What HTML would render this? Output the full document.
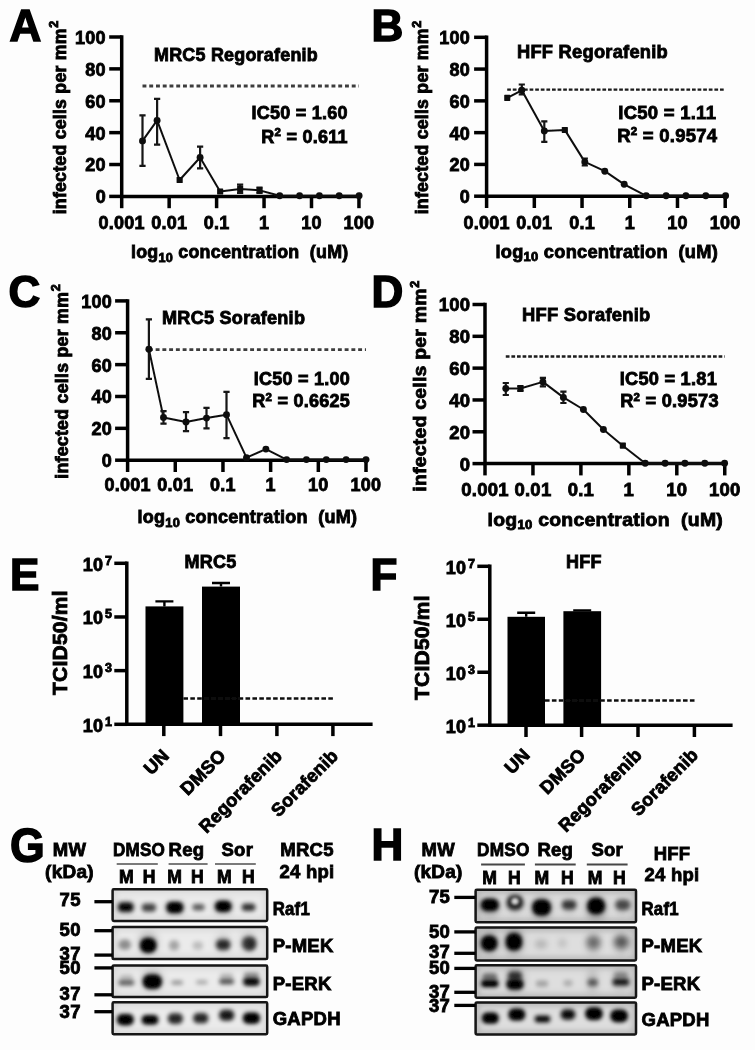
<!DOCTYPE html>
<html lang="en"><head><meta charset="utf-8"><title>Figure</title>
<style>html,body{margin:0;padding:0;background:#fdfdfd}svg{display:block}</style></head>
<body>
<svg width="755" height="1050" viewBox="0 0 755 1050" font-family='"Liberation Sans", sans-serif' font-weight="bold" letter-spacing="0.25">
<defs><filter id="s10" x="-80%" y="-150%" width="260%" height="400%"><feGaussianBlur stdDeviation="1.18"/></filter><filter id="s13" x="-80%" y="-150%" width="260%" height="400%"><feGaussianBlur stdDeviation="1.53"/></filter><filter id="s16" x="-80%" y="-150%" width="260%" height="400%"><feGaussianBlur stdDeviation="1.89"/></filter><filter id="s20" x="-80%" y="-150%" width="260%" height="400%"><feGaussianBlur stdDeviation="2.36"/></filter><filter id="s26" x="-80%" y="-150%" width="260%" height="400%"><feGaussianBlur stdDeviation="3.07"/></filter><filter id="s32" x="-80%" y="-150%" width="260%" height="400%"><feGaussianBlur stdDeviation="3.78"/></filter><filter id="soft"><feGaussianBlur stdDeviation="0.55"/></filter></defs>
<rect width="755" height="1050" fill="#fdfdfd"/>
<g filter="url(#soft)">
<text x="9.5" y="40.7" font-size="44" text-anchor="start" fill="#000" stroke="#000" stroke-width="1.5" >A</text>
<path d="M121.7 35.25 V196.4 H358.95" fill="none" stroke="#050505" stroke-width="3.5" stroke-linejoin="miter"/>
<path d="M109.2 196.40 H121.7" stroke="#050505" stroke-width="3.5"/>
<text x="105.9" y="203.30" font-size="18" text-anchor="end" fill="#000" stroke="#000" stroke-width="0.85" >0</text>
<path d="M109.2 164.52 H121.7" stroke="#050505" stroke-width="3.5"/>
<text x="105.9" y="171.42" font-size="18" text-anchor="end" fill="#000" stroke="#000" stroke-width="0.85" >20</text>
<path d="M109.2 132.64 H121.7" stroke="#050505" stroke-width="3.5"/>
<text x="105.9" y="139.54" font-size="18" text-anchor="end" fill="#000" stroke="#000" stroke-width="0.85" >40</text>
<path d="M109.2 100.76 H121.7" stroke="#050505" stroke-width="3.5"/>
<text x="105.9" y="107.66" font-size="18" text-anchor="end" fill="#000" stroke="#000" stroke-width="0.85" >60</text>
<path d="M109.2 68.88 H121.7" stroke="#050505" stroke-width="3.5"/>
<text x="105.9" y="75.78" font-size="18" text-anchor="end" fill="#000" stroke="#000" stroke-width="0.85" >80</text>
<path d="M109.2 37.00 H121.7" stroke="#050505" stroke-width="3.5"/>
<text x="105.9" y="43.90" font-size="18" text-anchor="end" fill="#000" stroke="#000" stroke-width="0.85" >100</text>
<path d="M121.70 196.4 V208.20000000000002" stroke="#050505" stroke-width="3.5"/>
<text x="121.70" y="229.20" font-size="18" text-anchor="middle" fill="#000" stroke="#000" stroke-width="0.85" >0.001</text>
<path d="M169.15 196.4 V208.20000000000002" stroke="#050505" stroke-width="3.5"/>
<text x="169.15" y="229.20" font-size="18" text-anchor="middle" fill="#000" stroke="#000" stroke-width="0.85" >0.01</text>
<path d="M216.60 196.4 V208.20000000000002" stroke="#050505" stroke-width="3.5"/>
<text x="216.60" y="229.20" font-size="18" text-anchor="middle" fill="#000" stroke="#000" stroke-width="0.85" >0.1</text>
<path d="M264.05 196.4 V208.20000000000002" stroke="#050505" stroke-width="3.5"/>
<text x="264.05" y="229.20" font-size="18" text-anchor="middle" fill="#000" stroke="#000" stroke-width="0.85" >1</text>
<path d="M311.50 196.4 V208.20000000000002" stroke="#050505" stroke-width="3.5"/>
<text x="311.50" y="229.20" font-size="18" text-anchor="middle" fill="#000" stroke="#000" stroke-width="0.85" >10</text>
<path d="M358.95 196.4 V208.20000000000002" stroke="#050505" stroke-width="3.5"/>
<text x="358.95" y="229.20" font-size="18" text-anchor="middle" fill="#000" stroke="#000" stroke-width="0.85" >100</text>
<g transform="translate(65.6 121.3) rotate(-90)" stroke="#000" stroke-width="0.85"><text x="0" y="0" font-size="17.6" text-anchor="middle" textLength="186" lengthAdjust="spacingAndGlyphs">infected cells per mm</text><text x="93.5" y="-7.6" font-size="12.5">2</text></g>
<text x="131" y="258" font-size="17.6" xml:space="preserve" stroke="#000" stroke-width="0.85" textLength="217.5" lengthAdjust="spacingAndGlyphs">log<tspan font-size="12.5" dy="3.5">10</tspan><tspan dy="-3.5"> concentration  (uM)</tspan></text>
<text x="154" y="60.8" font-size="18" text-anchor="start" fill="#000" stroke="#000" stroke-width="0.85" textLength="164" lengthAdjust="spacingAndGlyphs" >MRC5 Regorafenib</text>
<text x="347.8" y="119.4" font-size="18" text-anchor="end" fill="#000" stroke="#000" stroke-width="0.85" >IC50 = 1.60</text>
<text x="347.8" y="142.6" font-size="18" text-anchor="end" stroke="#000" stroke-width="0.85">R<tspan font-size="11.5" dy="-6.5">2</tspan><tspan dy="6.5"> = 0.611</tspan></text>
<path d="M142.5 86.0 H358.95" stroke="#3c3c3c" stroke-width="2.8" stroke-dasharray="3.9 2.85"/>
<path d="M142.5 140.9 L157.1 120.4 L179.6 180.0 L200.1 157.5 L220.1 191.6 L240.1 188.9 L259.5 190.3 L279.7 195.8 L299.6 195.8 L319.4 195.8 L339.2 195.8 L359.1 195.8" fill="none" stroke="#111" stroke-width="2" stroke-linejoin="round"/>
<path d="M142.5 115.4 V165.8 M139.4 115.4 h6.2 M139.4 165.8 h6.2" stroke="#161616" stroke-width="2.2" fill="none"/>
<circle cx="142.5" cy="140.9" r="3.45" fill="#0a0a0a"/>
<path d="M157.1 98.9 V144.6 M154.0 98.9 h6.2 M154.0 144.6 h6.2" stroke="#161616" stroke-width="2.2" fill="none"/>
<circle cx="157.1" cy="120.4" r="3.45" fill="#0a0a0a"/>
<rect x="176.6" y="176.9" width="6.1" height="6.1" rx="0.6" fill="#0a0a0a"/>
<path d="M200.1 146.6 V168.4 M197.0 146.6 h6.2 M197.0 168.4 h6.2" stroke="#161616" stroke-width="2.2" fill="none"/>
<circle cx="200.1" cy="157.5" r="3.45" fill="#0a0a0a"/>
<rect x="217.1" y="188.5" width="6.1" height="6.1" rx="0.6" fill="#0a0a0a"/>
<path d="M240.1 184.6 V192.9 M237.0 184.6 h6.2 M237.0 192.9 h6.2" stroke="#161616" stroke-width="2.2" fill="none"/>
<rect x="237.1" y="185.8" width="6.1" height="6.1" rx="0.6" fill="#0a0a0a"/>
<path d="M259.5 187.5 V193 M256.4 187.5 h6.2 M256.4 193 h6.2" stroke="#161616" stroke-width="2.2" fill="none"/>
<rect x="256.5" y="187.2" width="6.1" height="6.1" rx="0.6" fill="#0a0a0a"/>
<circle cx="279.7" cy="195.8" r="3.45" fill="#0a0a0a"/>
<circle cx="299.6" cy="195.8" r="3.45" fill="#0a0a0a"/>
<circle cx="319.4" cy="195.8" r="3.45" fill="#0a0a0a"/>
<circle cx="339.2" cy="195.8" r="3.45" fill="#0a0a0a"/>
<circle cx="359.1" cy="195.8" r="3.45" fill="#0a0a0a"/>
<text x="371.5" y="40.7" font-size="44" text-anchor="start" fill="#000" stroke="#000" stroke-width="1.5" >B</text>
<path d="M486.6 35.55 V196.2 H725.2" fill="none" stroke="#050505" stroke-width="3.5" stroke-linejoin="miter"/>
<path d="M474.1 196.20 H486.6" stroke="#050505" stroke-width="3.5"/>
<text x="470.1" y="203.10" font-size="18" text-anchor="end" fill="#000" stroke="#000" stroke-width="0.85" >0</text>
<path d="M474.1 164.42 H486.6" stroke="#050505" stroke-width="3.5"/>
<text x="470.1" y="171.32" font-size="18" text-anchor="end" fill="#000" stroke="#000" stroke-width="0.85" >20</text>
<path d="M474.1 132.64 H486.6" stroke="#050505" stroke-width="3.5"/>
<text x="470.1" y="139.54" font-size="18" text-anchor="end" fill="#000" stroke="#000" stroke-width="0.85" >40</text>
<path d="M474.1 100.86 H486.6" stroke="#050505" stroke-width="3.5"/>
<text x="470.1" y="107.76" font-size="18" text-anchor="end" fill="#000" stroke="#000" stroke-width="0.85" >60</text>
<path d="M474.1 69.08 H486.6" stroke="#050505" stroke-width="3.5"/>
<text x="470.1" y="75.98" font-size="18" text-anchor="end" fill="#000" stroke="#000" stroke-width="0.85" >80</text>
<path d="M474.1 37.30 H486.6" stroke="#050505" stroke-width="3.5"/>
<text x="470.1" y="44.20" font-size="18" text-anchor="end" fill="#000" stroke="#000" stroke-width="0.85" >100</text>
<path d="M486.60 196.2 V208.0" stroke="#050505" stroke-width="3.5"/>
<text x="486.60" y="229.00" font-size="18" text-anchor="middle" fill="#000" stroke="#000" stroke-width="0.85" >0.001</text>
<path d="M534.32 196.2 V208.0" stroke="#050505" stroke-width="3.5"/>
<text x="534.32" y="229.00" font-size="18" text-anchor="middle" fill="#000" stroke="#000" stroke-width="0.85" >0.01</text>
<path d="M582.04 196.2 V208.0" stroke="#050505" stroke-width="3.5"/>
<text x="582.04" y="229.00" font-size="18" text-anchor="middle" fill="#000" stroke="#000" stroke-width="0.85" >0.1</text>
<path d="M629.76 196.2 V208.0" stroke="#050505" stroke-width="3.5"/>
<text x="629.76" y="229.00" font-size="18" text-anchor="middle" fill="#000" stroke="#000" stroke-width="0.85" >1</text>
<path d="M677.48 196.2 V208.0" stroke="#050505" stroke-width="3.5"/>
<text x="677.48" y="229.00" font-size="18" text-anchor="middle" fill="#000" stroke="#000" stroke-width="0.85" >10</text>
<path d="M725.20 196.2 V208.0" stroke="#050505" stroke-width="3.5"/>
<text x="725.20" y="229.00" font-size="18" text-anchor="middle" fill="#000" stroke="#000" stroke-width="0.85" >100</text>
<g transform="translate(428.3 121.3) rotate(-90)" stroke="#000" stroke-width="0.85"><text x="0" y="0" font-size="17.6" text-anchor="middle" textLength="186" lengthAdjust="spacingAndGlyphs">infected cells per mm</text><text x="93.5" y="-7.6" font-size="12.5">2</text></g>
<text x="495.5" y="257.8" font-size="17.6" xml:space="preserve" stroke="#000" stroke-width="0.85" textLength="222.5" lengthAdjust="spacingAndGlyphs">log<tspan font-size="12.5" dy="3.5">10</tspan><tspan dy="-3.5"> concentration  (uM)</tspan></text>
<text x="517" y="57.5" font-size="18.5" text-anchor="start" fill="#000" stroke="#000" stroke-width="0.85" textLength="151" lengthAdjust="spacingAndGlyphs" >HFF Regorafenib</text>
<text x="716.2" y="118.8" font-size="18.5" text-anchor="end" fill="#000" stroke="#000" stroke-width="0.85" >IC50 = 1.11</text>
<text x="717.4" y="141.9" font-size="18.5" text-anchor="end" stroke="#000" stroke-width="0.85">R<tspan font-size="11.5" dy="-6.5">2</tspan><tspan dy="6.5"> = 0.9574</tspan></text>
<path d="M507.2 89.6 H725.2" stroke="#1c1c1c" stroke-width="2.4" stroke-dasharray="3.7 1.9"/>
<path d="M507.2 97.8 L521.8 90.3 L544.3 130.9 L564.8 129.9 L584.8 161.9 L604.8 171.2 L624.2 184.3 L646.2 195.8 L666.1 195.8 L685.9 195.8 L705.8 195.8 L725.6 195.8" fill="none" stroke="#111" stroke-width="2" stroke-linejoin="round"/>
<rect x="504.2" y="94.8" width="6.1" height="6.1" rx="0.6" fill="#0a0a0a"/>
<path d="M521.8 84.5 V94.4 M518.7 84.5 h6.2 M518.7 94.4 h6.2" stroke="#161616" stroke-width="2.2" fill="none"/>
<circle cx="521.8" cy="90.3" r="3.45" fill="#0a0a0a"/>
<path d="M544.3 121.3 V141.9 M541.2 121.3 h6.2 M541.2 141.9 h6.2" stroke="#161616" stroke-width="2.2" fill="none"/>
<circle cx="544.3" cy="130.9" r="3.45" fill="#0a0a0a"/>
<rect x="561.8" y="126.9" width="6.1" height="6.1" rx="0.6" fill="#0a0a0a"/>
<path d="M584.8 158.5 V165.5 M581.7 158.5 h6.2 M581.7 165.5 h6.2" stroke="#161616" stroke-width="2.2" fill="none"/>
<circle cx="584.8" cy="161.9" r="3.45" fill="#0a0a0a"/>
<circle cx="604.8" cy="171.2" r="3.45" fill="#0a0a0a"/>
<circle cx="624.2" cy="184.3" r="3.45" fill="#0a0a0a"/>
<circle cx="646.2" cy="195.8" r="3.45" fill="#0a0a0a"/>
<circle cx="666.1" cy="195.8" r="3.45" fill="#0a0a0a"/>
<circle cx="685.9" cy="195.8" r="3.45" fill="#0a0a0a"/>
<circle cx="705.8" cy="195.8" r="3.45" fill="#0a0a0a"/>
<circle cx="725.6" cy="195.8" r="3.45" fill="#0a0a0a"/>
<text x="8.5" y="306.8" font-size="44" text-anchor="start" fill="#000" stroke="#000" stroke-width="1.5" >C</text>
<path d="M127.6 299.15 V460.2 H366.0" fill="none" stroke="#050505" stroke-width="3.5" stroke-linejoin="miter"/>
<path d="M115.1 460.20 H127.6" stroke="#050505" stroke-width="3.5"/>
<text x="112.0" y="467.10" font-size="18" text-anchor="end" fill="#000" stroke="#000" stroke-width="0.85" >0</text>
<path d="M115.1 428.34 H127.6" stroke="#050505" stroke-width="3.5"/>
<text x="112.0" y="435.24" font-size="18" text-anchor="end" fill="#000" stroke="#000" stroke-width="0.85" >20</text>
<path d="M115.1 396.48 H127.6" stroke="#050505" stroke-width="3.5"/>
<text x="112.0" y="403.38" font-size="18" text-anchor="end" fill="#000" stroke="#000" stroke-width="0.85" >40</text>
<path d="M115.1 364.62 H127.6" stroke="#050505" stroke-width="3.5"/>
<text x="112.0" y="371.52" font-size="18" text-anchor="end" fill="#000" stroke="#000" stroke-width="0.85" >60</text>
<path d="M115.1 332.76 H127.6" stroke="#050505" stroke-width="3.5"/>
<text x="112.0" y="339.66" font-size="18" text-anchor="end" fill="#000" stroke="#000" stroke-width="0.85" >80</text>
<path d="M115.1 300.90 H127.6" stroke="#050505" stroke-width="3.5"/>
<text x="112.0" y="307.80" font-size="18" text-anchor="end" fill="#000" stroke="#000" stroke-width="0.85" >100</text>
<path d="M127.60 460.2 V472.0" stroke="#050505" stroke-width="3.5"/>
<text x="127.60" y="491.20" font-size="18" text-anchor="middle" fill="#000" stroke="#000" stroke-width="0.85" >0.001</text>
<path d="M175.28 460.2 V472.0" stroke="#050505" stroke-width="3.5"/>
<text x="175.28" y="491.20" font-size="18" text-anchor="middle" fill="#000" stroke="#000" stroke-width="0.85" >0.01</text>
<path d="M222.96 460.2 V472.0" stroke="#050505" stroke-width="3.5"/>
<text x="222.96" y="491.20" font-size="18" text-anchor="middle" fill="#000" stroke="#000" stroke-width="0.85" >0.1</text>
<path d="M270.64 460.2 V472.0" stroke="#050505" stroke-width="3.5"/>
<text x="270.64" y="491.20" font-size="18" text-anchor="middle" fill="#000" stroke="#000" stroke-width="0.85" >1</text>
<path d="M318.32 460.2 V472.0" stroke="#050505" stroke-width="3.5"/>
<text x="318.32" y="491.20" font-size="18" text-anchor="middle" fill="#000" stroke="#000" stroke-width="0.85" >10</text>
<path d="M366.00 460.2 V472.0" stroke="#050505" stroke-width="3.5"/>
<text x="366.00" y="491.20" font-size="18" text-anchor="middle" fill="#000" stroke="#000" stroke-width="0.85" >100</text>
<g transform="translate(67.5 385.3) rotate(-90)" stroke="#000" stroke-width="0.85"><text x="0" y="0" font-size="17.6" text-anchor="middle" textLength="187" lengthAdjust="spacingAndGlyphs">infected cells per mm</text><text x="94.0" y="-7.6" font-size="12.5">2</text></g>
<text x="137.5" y="523.3" font-size="17.6" xml:space="preserve" stroke="#000" stroke-width="0.85" textLength="219.7" lengthAdjust="spacingAndGlyphs">log<tspan font-size="12.5" dy="3.5">10</tspan><tspan dy="-3.5"> concentration  (uM)</tspan></text>
<text x="162" y="323.7" font-size="18" text-anchor="start" fill="#000" stroke="#000" stroke-width="0.85" textLength="143.2" lengthAdjust="spacingAndGlyphs" >MRC5 Sorafenib</text>
<text x="350" y="384.7" font-size="18" text-anchor="end" fill="#000" stroke="#000" stroke-width="0.85" >IC50 = 1.00</text>
<text x="350" y="407.1" font-size="18" text-anchor="end" stroke="#000" stroke-width="0.85">R<tspan font-size="11.5" dy="-6.5">2</tspan><tspan dy="6.5"> = 0.6625</tspan></text>
<path d="M148.9 349.6 H366.0" stroke="#3c3c3c" stroke-width="2.8" stroke-dasharray="3.9 2.85"/>
<path d="M148.9 349.2 L163.5 417.4 L186.0 421.9 L206.5 418.1 L226.5 414.7 L246.5 457.7 L265.9 449.1 L286.6 459.6 L306.4 459.6 L326.3 459.6 L346.1 459.6 L366.0 459.6" fill="none" stroke="#111" stroke-width="2" stroke-linejoin="round"/>
<path d="M148.9 319.3 V378.8 M145.8 319.3 h6.2 M145.8 378.8 h6.2" stroke="#161616" stroke-width="2.2" fill="none"/>
<circle cx="148.9" cy="349.2" r="3.45" fill="#0a0a0a"/>
<path d="M163.5 411.2 V423.6 M160.4 411.2 h6.2 M160.4 423.6 h6.2" stroke="#161616" stroke-width="2.2" fill="none"/>
<circle cx="163.5" cy="417.4" r="3.45" fill="#0a0a0a"/>
<path d="M186.0 412.2 V431.2 M182.9 412.2 h6.2 M182.9 431.2 h6.2" stroke="#161616" stroke-width="2.2" fill="none"/>
<circle cx="186.0" cy="421.9" r="3.45" fill="#0a0a0a"/>
<path d="M206.5 407.8 V428.4 M203.4 407.8 h6.2 M203.4 428.4 h6.2" stroke="#161616" stroke-width="2.2" fill="none"/>
<circle cx="206.5" cy="418.1" r="3.45" fill="#0a0a0a"/>
<path d="M226.5 391.9 V438.1 M223.4 391.9 h6.2 M223.4 438.1 h6.2" stroke="#161616" stroke-width="2.2" fill="none"/>
<circle cx="226.5" cy="414.7" r="3.45" fill="#0a0a0a"/>
<circle cx="246.5" cy="457.7" r="3.45" fill="#0a0a0a"/>
<circle cx="265.9" cy="449.1" r="3.45" fill="#0a0a0a"/>
<circle cx="286.6" cy="459.6" r="3.45" fill="#0a0a0a"/>
<circle cx="306.4" cy="459.6" r="3.45" fill="#0a0a0a"/>
<circle cx="326.3" cy="459.6" r="3.45" fill="#0a0a0a"/>
<circle cx="346.1" cy="459.6" r="3.45" fill="#0a0a0a"/>
<circle cx="366.0" cy="459.6" r="3.45" fill="#0a0a0a"/>
<text x="371.6" y="306.5" font-size="44" text-anchor="start" fill="#000" stroke="#000" stroke-width="1.5" >D</text>
<path d="M485.0 302.75 V463.6 H724.75" fill="none" stroke="#050505" stroke-width="3.5" stroke-linejoin="miter"/>
<path d="M472.5 463.60 H485.0" stroke="#050505" stroke-width="3.5"/>
<text x="470.4" y="470.50" font-size="18.5" text-anchor="end" fill="#000" stroke="#000" stroke-width="0.85" >0</text>
<path d="M472.5 431.78 H485.0" stroke="#050505" stroke-width="3.5"/>
<text x="470.4" y="438.68" font-size="18.5" text-anchor="end" fill="#000" stroke="#000" stroke-width="0.85" >20</text>
<path d="M472.5 399.96 H485.0" stroke="#050505" stroke-width="3.5"/>
<text x="470.4" y="406.86" font-size="18.5" text-anchor="end" fill="#000" stroke="#000" stroke-width="0.85" >40</text>
<path d="M472.5 368.14 H485.0" stroke="#050505" stroke-width="3.5"/>
<text x="470.4" y="375.04" font-size="18.5" text-anchor="end" fill="#000" stroke="#000" stroke-width="0.85" >60</text>
<path d="M472.5 336.32 H485.0" stroke="#050505" stroke-width="3.5"/>
<text x="470.4" y="343.22" font-size="18.5" text-anchor="end" fill="#000" stroke="#000" stroke-width="0.85" >80</text>
<path d="M472.5 304.50 H485.0" stroke="#050505" stroke-width="3.5"/>
<text x="470.4" y="311.40" font-size="18.5" text-anchor="end" fill="#000" stroke="#000" stroke-width="0.85" >100</text>
<path d="M485.00 463.6 V475.40000000000003" stroke="#050505" stroke-width="3.5"/>
<text x="485.00" y="496.40" font-size="18.5" text-anchor="middle" fill="#000" stroke="#000" stroke-width="0.85" >0.001</text>
<path d="M532.95 463.6 V475.40000000000003" stroke="#050505" stroke-width="3.5"/>
<text x="532.95" y="496.40" font-size="18.5" text-anchor="middle" fill="#000" stroke="#000" stroke-width="0.85" >0.01</text>
<path d="M580.90 463.6 V475.40000000000003" stroke="#050505" stroke-width="3.5"/>
<text x="580.90" y="496.40" font-size="18.5" text-anchor="middle" fill="#000" stroke="#000" stroke-width="0.85" >0.1</text>
<path d="M628.85 463.6 V475.40000000000003" stroke="#050505" stroke-width="3.5"/>
<text x="628.85" y="496.40" font-size="18.5" text-anchor="middle" fill="#000" stroke="#000" stroke-width="0.85" >1</text>
<path d="M676.80 463.6 V475.40000000000003" stroke="#050505" stroke-width="3.5"/>
<text x="676.80" y="496.40" font-size="18.5" text-anchor="middle" fill="#000" stroke="#000" stroke-width="0.85" >10</text>
<path d="M724.75 463.6 V475.40000000000003" stroke="#050505" stroke-width="3.5"/>
<text x="724.75" y="496.40" font-size="18.5" text-anchor="middle" fill="#000" stroke="#000" stroke-width="0.85" >100</text>
<g transform="translate(426.2 390) rotate(-90)" stroke="#000" stroke-width="0.85"><text x="0" y="0" font-size="19" text-anchor="middle" textLength="203.5" lengthAdjust="spacingAndGlyphs">infected cells per mm</text><text x="102.25" y="-7.6" font-size="12.5">2</text></g>
<text x="487.6" y="525.6" font-size="18.6" xml:space="preserve" stroke="#000" stroke-width="0.85" textLength="235.5" lengthAdjust="spacingAndGlyphs">log<tspan font-size="12.5" dy="3.5">10</tspan><tspan dy="-3.5"> concentration  (uM)</tspan></text>
<text x="522" y="321.3" font-size="18.8" text-anchor="start" fill="#000" stroke="#000" stroke-width="0.85" textLength="128.5" lengthAdjust="spacingAndGlyphs" >HFF Sorafenib</text>
<text x="717" y="385.2" font-size="18.2" text-anchor="end" fill="#000" stroke="#000" stroke-width="0.85" >IC50 = 1.81</text>
<text x="718.8" y="407.4" font-size="18.2" text-anchor="end" stroke="#000" stroke-width="0.85">R<tspan font-size="11.5" dy="-6.5">2</tspan><tspan dy="6.5"> = 0.9573</tspan></text>
<path d="M505.8 356.5 H724.75" stroke="#1c1c1c" stroke-width="2.4" stroke-dasharray="3.7 1.9"/>
<path d="M505.8 388.5 L520.4 388.5 L542.9 381.9 L563.4 397.4 L583.4 409.5 L603.4 429.5 L622.8 445.7 L645.2 463.2 L665.1 463.2 L684.9 463.2 L704.8 463.2 L724.6 463.2" fill="none" stroke="#111" stroke-width="2" stroke-linejoin="round"/>
<path d="M505.8 383 V395 M502.7 383 h6.2 M502.7 395 h6.2" stroke="#161616" stroke-width="2.2" fill="none"/>
<circle cx="505.8" cy="388.5" r="3.45" fill="#0a0a0a"/>
<path d="M520.4 386 V391 M517.3 386 h6.2 M517.3 391 h6.2" stroke="#161616" stroke-width="2.2" fill="none"/>
<rect x="517.4" y="385.4" width="6.1" height="6.1" rx="0.6" fill="#0a0a0a"/>
<path d="M542.9 377.8 V386.4 M539.8 377.8 h6.2 M539.8 386.4 h6.2" stroke="#161616" stroke-width="2.2" fill="none"/>
<circle cx="542.9" cy="381.9" r="3.45" fill="#0a0a0a"/>
<path d="M563.4 391.6 V403 M560.3 391.6 h6.2 M560.3 403 h6.2" stroke="#161616" stroke-width="2.2" fill="none"/>
<circle cx="563.4" cy="397.4" r="3.45" fill="#0a0a0a"/>
<circle cx="583.4" cy="409.5" r="3.45" fill="#0a0a0a"/>
<circle cx="603.4" cy="429.5" r="3.45" fill="#0a0a0a"/>
<rect x="619.8" y="442.6" width="6.1" height="6.1" rx="0.6" fill="#0a0a0a"/>
<circle cx="645.2" cy="463.2" r="3.45" fill="#0a0a0a"/>
<circle cx="665.1" cy="463.2" r="3.45" fill="#0a0a0a"/>
<circle cx="684.9" cy="463.2" r="3.45" fill="#0a0a0a"/>
<circle cx="704.8" cy="463.2" r="3.45" fill="#0a0a0a"/>
<circle cx="724.6" cy="463.2" r="3.45" fill="#0a0a0a"/>
<text x="10" y="590.3" font-size="44" text-anchor="start" fill="#000" stroke="#000" stroke-width="1.5" >E</text>
<path d="M126.8 561.55 V724.3 H372.6" fill="none" stroke="#050505" stroke-width="3.5"/>
<path d="M114.3 724.30 H126.8" stroke="#050505" stroke-width="3.5"/>
<text x="103.3" y="731.60" font-size="18" text-anchor="end" stroke="#000" stroke-width="0.85">10</text>
<text x="105.0" y="725.70" font-size="12.5" stroke="#000" stroke-width="0.85">1</text>
<path d="M114.3 670.63 H126.8" stroke="#050505" stroke-width="3.5"/>
<text x="103.3" y="677.93" font-size="18" text-anchor="end" stroke="#000" stroke-width="0.85">10</text>
<text x="105.0" y="672.03" font-size="12.5" stroke="#000" stroke-width="0.85">3</text>
<path d="M114.3 616.97 H126.8" stroke="#050505" stroke-width="3.5"/>
<text x="103.3" y="624.27" font-size="18" text-anchor="end" stroke="#000" stroke-width="0.85">10</text>
<text x="105.0" y="618.37" font-size="12.5" stroke="#000" stroke-width="0.85">5</text>
<path d="M114.3 563.30 H126.8" stroke="#050505" stroke-width="3.5"/>
<text x="103.3" y="570.60" font-size="18" text-anchor="end" stroke="#000" stroke-width="0.85">10</text>
<text x="105.0" y="564.70" font-size="12.5" stroke="#000" stroke-width="0.85">7</text>
<path d="M164.4 606.4 V601.4 M155.4 601.4 h18" stroke="#050505" stroke-width="2.4" fill="none"/>
<rect x="145.5" y="606.4" width="37.9" height="118.9" fill="#050505"/>
<path d="M221.0 586.6 V583.0 M212.0 583.0 h18" stroke="#050505" stroke-width="2.4" fill="none"/>
<rect x="202" y="586.6" width="38.0" height="138.7" fill="#050505"/>
<path d="M183.4 698.6 H334.4" stroke="#111" stroke-width="2.5" stroke-dasharray="4.6 2.3"/>
<path d="M163.8 724.3 V736.0999999999999" stroke="#050505" stroke-width="3.5"/>
<text transform="translate(170.3 756.9) rotate(-45)" font-size="18.2" text-anchor="end" stroke="#000" stroke-width="0.85">UN</text>
<path d="M220.5 724.3 V736.0999999999999" stroke="#050505" stroke-width="3.5"/>
<text transform="translate(227.0 756.9) rotate(-45)" font-size="18.2" text-anchor="end" stroke="#000" stroke-width="0.85">DMSO</text>
<path d="M276.9 724.3 V736.0999999999999" stroke="#050505" stroke-width="3.5"/>
<text transform="translate(283.4 756.9) rotate(-45)" font-size="18.2" text-anchor="end" stroke="#000" stroke-width="0.85">Regorafenib</text>
<path d="M332.9 724.3 V736.0999999999999" stroke="#050505" stroke-width="3.5"/>
<text transform="translate(339.4 756.9) rotate(-45)" font-size="18.2" text-anchor="end" stroke="#000" stroke-width="0.85">Sorafenib</text>
<text x="184.4" y="567.5" font-size="18" text-anchor="start" fill="#000" stroke="#000" stroke-width="0.85" >MRC5</text>
<text transform="translate(67 642.6) rotate(-90)" font-size="20" text-anchor="middle" stroke="#000" stroke-width="0.85" textLength="105" lengthAdjust="spacingAndGlyphs">TCID50/ml</text>
<text x="370.6" y="590.3" font-size="44" text-anchor="start" fill="#000" stroke="#000" stroke-width="1.5" >F</text>
<path d="M489.8 564.55 V725.2 H732.6" fill="none" stroke="#050505" stroke-width="3.5"/>
<path d="M477.3 725.20 H489.8" stroke="#050505" stroke-width="3.5"/>
<text x="466.3" y="732.50" font-size="18" text-anchor="end" stroke="#000" stroke-width="0.85">10</text>
<text x="468.0" y="726.60" font-size="12.5" stroke="#000" stroke-width="0.85">1</text>
<path d="M477.3 672.23 H489.8" stroke="#050505" stroke-width="3.5"/>
<text x="466.3" y="679.53" font-size="18" text-anchor="end" stroke="#000" stroke-width="0.85">10</text>
<text x="468.0" y="673.63" font-size="12.5" stroke="#000" stroke-width="0.85">3</text>
<path d="M477.3 619.27 H489.8" stroke="#050505" stroke-width="3.5"/>
<text x="466.3" y="626.57" font-size="18" text-anchor="end" stroke="#000" stroke-width="0.85">10</text>
<text x="468.0" y="620.67" font-size="12.5" stroke="#000" stroke-width="0.85">5</text>
<path d="M477.3 566.30 H489.8" stroke="#050505" stroke-width="3.5"/>
<text x="466.3" y="573.60" font-size="18" text-anchor="end" stroke="#000" stroke-width="0.85">10</text>
<text x="468.0" y="567.70" font-size="12.5" stroke="#000" stroke-width="0.85">7</text>
<path d="M526.2 616.8 V612.8 M517.2 612.8 h18" stroke="#050505" stroke-width="2.4" fill="none"/>
<rect x="507.5" y="616.8" width="37.5" height="109.4" fill="#050505"/>
<path d="M582.2 611.2 V610.4 M573.2 610.4 h18" stroke="#050505" stroke-width="2.4" fill="none"/>
<rect x="563.4" y="611.2" width="37.7" height="115.0" fill="#050505"/>
<path d="M545 700.4 H695.5" stroke="#111" stroke-width="2.5" stroke-dasharray="4.6 2.3"/>
<path d="M526 725.2 V737.0" stroke="#050505" stroke-width="3.5"/>
<text transform="translate(531.0 756.0) rotate(-45)" font-size="18.2" text-anchor="end" stroke="#000" stroke-width="0.85">UN</text>
<path d="M581.6 725.2 V737.0" stroke="#050505" stroke-width="3.5"/>
<text transform="translate(586.6 756.0) rotate(-45)" font-size="18.2" text-anchor="end" stroke="#000" stroke-width="0.85">DMSO</text>
<path d="M638 725.2 V737.0" stroke="#050505" stroke-width="3.5"/>
<text transform="translate(643.0 756.0) rotate(-45)" font-size="18.2" text-anchor="end" stroke="#000" stroke-width="0.85">Regorafenib</text>
<path d="M694.4 725.2 V737.0" stroke="#050505" stroke-width="3.5"/>
<text transform="translate(699.4 756.0) rotate(-45)" font-size="18.2" text-anchor="end" stroke="#000" stroke-width="0.85">Sorafenib</text>
<text x="566" y="568.1" font-size="18" text-anchor="start" fill="#000" stroke="#000" stroke-width="0.85" >HFF</text>
<text transform="translate(428.8 647.6) rotate(-90)" font-size="20" text-anchor="middle" stroke="#000" stroke-width="0.85" textLength="105" lengthAdjust="spacingAndGlyphs">TCID50/ml</text>
<text x="10.0" y="861.6" font-size="48.6" text-anchor="start" fill="#000" stroke="#000" stroke-width="1.5" textLength="35.0" lengthAdjust="spacingAndGlyphs" >G</text>
<text x="69.5" y="855.8" font-size="18.5" text-anchor="middle" fill="#000" stroke="#000" stroke-width="0.85" >MW</text>
<text x="69.5" y="878.3" font-size="19.0" text-anchor="middle" fill="#000" stroke="#000" stroke-width="0.85" >(kDa)</text>
<text x="139.0" y="856.2" font-size="18.5" text-anchor="middle" fill="#000" stroke="#000" stroke-width="0.85" textLength="52.2" lengthAdjust="spacingAndGlyphs" >DMSO</text>
<path d="M116.7 864.1 H157.8" stroke="#7a7a7a" stroke-width="2"/>
<text x="186.4" y="856.2" font-size="18.5" text-anchor="middle" fill="#000" stroke="#000" stroke-width="0.85" >Reg</text>
<path d="M168.6 864.1 H207.6" stroke="#7a7a7a" stroke-width="2"/>
<text x="237.3" y="856.2" font-size="18.5" text-anchor="middle" fill="#000" stroke="#000" stroke-width="0.85" >Sor</text>
<path d="M215 864.1 H255.8" stroke="#7a7a7a" stroke-width="2"/>
<text x="126.5" y="882.6" font-size="17.6" text-anchor="middle" fill="#000" stroke="#000" stroke-width="0.85" >M</text>
<text x="149.3" y="882.6" font-size="17.6" text-anchor="middle" fill="#000" stroke="#000" stroke-width="0.85" >H</text>
<text x="174.7" y="882.6" font-size="17.6" text-anchor="middle" fill="#000" stroke="#000" stroke-width="0.85" >M</text>
<text x="197.6" y="882.6" font-size="17.6" text-anchor="middle" fill="#000" stroke="#000" stroke-width="0.85" >H</text>
<text x="224.5" y="882.6" font-size="17.6" text-anchor="middle" fill="#000" stroke="#000" stroke-width="0.85" >M</text>
<text x="248.4" y="882.6" font-size="17.6" text-anchor="middle" fill="#000" stroke="#000" stroke-width="0.85" >H</text>
<text x="307.0" y="856" font-size="18.5" text-anchor="middle" fill="#000" stroke="#000" stroke-width="0.85" >MRC5</text>
<text x="307.0" y="877.5" font-size="18.5" text-anchor="middle" fill="#000" stroke="#000" stroke-width="0.85" >24 hpi</text>
<clipPath id="cG0"><rect x="112.6" y="889.2" width="154.6" height="31.8"/></clipPath>
<rect x="112.6" y="889.2" width="154.6" height="31.8" fill="#ebebeb"/>
<g clip-path="url(#cG0)">
<rect x="112.6" y="889.2" width="154.6" height="31.8" fill="none" stroke="#000" stroke-opacity="0.09" stroke-width="7" filter="url(#s26)"/>
<rect x="118.2" y="902.6" width="15.1" height="9.2" rx="4.1" fill="#000" fill-opacity="1" filter="url(#s16)"/>
<rect x="116.9" y="901.4" width="17.7" height="11.7" rx="5.2" fill="#000" fill-opacity="0.18" filter="url(#s26)"/>
<rect x="141.8" y="903.5" width="14.2" height="8.2" rx="3.7" fill="#000" fill-opacity="0.72" filter="url(#s20)"/>
<rect x="166.5" y="901.9" width="16.6" height="11.2" rx="5.0" fill="#000" fill-opacity="1" filter="url(#s16)"/>
<rect x="169.0" y="904.7" width="11.6" height="5.6" rx="2.5" fill="#000" fill-opacity="1" filter="url(#s16)"/>
<rect x="165.0" y="901.2" width="19.7" height="13.7" rx="6.1" fill="#000" fill-opacity="0.2" filter="url(#s26)"/>
<rect x="192.4" y="903.9" width="12.2" height="6.7" rx="3.0" fill="#000" fill-opacity="0.62" filter="url(#s20)"/>
<rect x="215.2" y="901.1" width="16.1" height="10.6" rx="4.8" fill="#000" fill-opacity="1" filter="url(#s16)"/>
<rect x="217.4" y="903.6" width="11.6" height="5.6" rx="2.5" fill="#000" fill-opacity="1" filter="url(#s16)"/>
<rect x="213.4" y="900.0" width="19.7" height="13.7" rx="6.1" fill="#000" fill-opacity="0.2" filter="url(#s26)"/>
<rect x="241.7" y="903.4" width="13.7" height="7.7" rx="3.5" fill="#000" fill-opacity="0.8" filter="url(#s20)"/>
</g>
<rect x="112.6" y="889.2" width="154.6" height="31.8" fill="none" stroke="#121212" stroke-width="2.5" rx="1.2"/>
<text x="272.7" y="914.6" font-size="18.5" text-anchor="start" fill="#000" stroke="#000" stroke-width="0.85" textLength="37.3" lengthAdjust="spacingAndGlyphs" >Raf1</text>
<clipPath id="cG1"><rect x="112.6" y="927.0" width="154.6" height="32.1"/></clipPath>
<rect x="112.6" y="927.0" width="154.6" height="32.1" fill="#ebebeb"/>
<g clip-path="url(#cG1)">
<rect x="112.6" y="927.0" width="154.6" height="32.1" fill="none" stroke="#000" stroke-opacity="0.09" stroke-width="7" filter="url(#s26)"/>
<rect x="118.7" y="939.6" width="12.2" height="10.2" rx="4.6" fill="#000" fill-opacity="0.4" filter="url(#s20)"/>
<rect x="140.2" y="938.1" width="16.1" height="14.6" rx="6.6" fill="#000" fill-opacity="1" filter="url(#s16)"/>
<rect x="142.4" y="940.6" width="11.6" height="9.6" rx="4.3" fill="#000" fill-opacity="1" filter="url(#s16)"/>
<rect x="138.6" y="932.4" width="19.1" height="21.1" rx="8.6" fill="#000" fill-opacity="0.22" filter="url(#s32)"/>
<rect x="169.0" y="940.3" width="10.2" height="10.2" rx="4.6" fill="#000" fill-opacity="0.3" filter="url(#s20)"/>
<rect x="192.7" y="941.5" width="10.2" height="8.2" rx="3.7" fill="#000" fill-opacity="0.2" filter="url(#s20)"/>
<rect x="216.1" y="939.4" width="14.2" height="10.7" rx="4.8" fill="#000" fill-opacity="0.8" filter="url(#s20)"/>
<rect x="215.6" y="934.4" width="15.1" height="17.1" rx="6.8" fill="#000" fill-opacity="0.15" filter="url(#s32)"/>
<rect x="242.0" y="936.5" width="14.2" height="14.2" rx="6.4" fill="#000" fill-opacity="0.72" filter="url(#s20)"/>
<rect x="247.4" y="938.9" width="7.2" height="10.2" rx="3.2" fill="#000" fill-opacity="0.3" filter="url(#s20)"/>
<rect x="240.4" y="932.4" width="17.1" height="19.1" rx="7.7" fill="#000" fill-opacity="0.15" filter="url(#s32)"/>
</g>
<rect x="112.6" y="927.0" width="154.6" height="32.1" fill="none" stroke="#121212" stroke-width="2.5" rx="1.2"/>
<text x="272.7" y="951.7" font-size="18.5" text-anchor="start" fill="#000" stroke="#000" stroke-width="0.85" >P-MEK</text>
<clipPath id="cG2"><rect x="112.6" y="965.6" width="154.6" height="31.5"/></clipPath>
<rect x="112.6" y="965.6" width="154.6" height="31.5" fill="#ebebeb"/>
<g clip-path="url(#cG2)">
<rect x="112.6" y="965.6" width="154.6" height="31.5" fill="none" stroke="#000" stroke-opacity="0.09" stroke-width="7" filter="url(#s26)"/>
<rect x="118.6" y="979.8" width="15.6" height="5.6" rx="2.5" fill="#000" fill-opacity="0.6" filter="url(#s16)"/>
<rect x="119.8" y="974.7" width="13.2" height="4.2" rx="1.9" fill="#000" fill-opacity="0.22" filter="url(#s20)"/>
<rect x="143.0" y="974.6" width="18.6" height="14.1" rx="6.3" fill="#000" fill-opacity="1" filter="url(#s16)"/>
<rect x="145.3" y="977.5" width="14.1" height="8.6" rx="3.9" fill="#000" fill-opacity="1" filter="url(#s16)"/>
<rect x="141.7" y="970.4" width="21.1" height="19.1" rx="8.6" fill="#000" fill-opacity="0.2" filter="url(#s32)"/>
<rect x="171.3" y="980.6" width="11.6" height="4.1" rx="1.8" fill="#000" fill-opacity="0.38" filter="url(#s16)"/>
<rect x="196.0" y="980.2" width="11.6" height="4.1" rx="1.8" fill="#000" fill-opacity="0.3" filter="url(#s16)"/>
<rect x="219.3" y="978.7" width="14.6" height="5.6" rx="2.5" fill="#000" fill-opacity="0.68" filter="url(#s16)"/>
<rect x="220.0" y="973.7" width="13.2" height="4.2" rx="1.9" fill="#000" fill-opacity="0.25" filter="url(#s20)"/>
<rect x="243.1" y="977.6" width="16.6" height="8.1" rx="3.6" fill="#000" fill-opacity="0.95" filter="url(#s16)"/>
<rect x="246.1" y="980.2" width="10.6" height="3.6" rx="1.6" fill="#000" fill-opacity="0.6" filter="url(#s16)"/>
<rect x="243.8" y="972.4" width="15.2" height="5.2" rx="2.3" fill="#000" fill-opacity="0.42" filter="url(#s20)"/>
</g>
<rect x="112.6" y="965.6" width="154.6" height="31.5" fill="none" stroke="#121212" stroke-width="2.5" rx="1.2"/>
<text x="272.7" y="990.2" font-size="18.5" text-anchor="start" fill="#000" stroke="#000" stroke-width="0.85" >P-ERK</text>
<clipPath id="cG3"><rect x="112.6" y="1002.2" width="154.6" height="32.0"/></clipPath>
<rect x="112.6" y="1002.2" width="154.6" height="32.0" fill="#ebebeb"/>
<g clip-path="url(#cG3)">
<rect x="112.6" y="1002.2" width="154.6" height="32.0" fill="none" stroke="#000" stroke-opacity="0.09" stroke-width="7" filter="url(#s26)"/>
<rect x="117.0" y="1014.0" width="16.6" height="11.2" rx="5.0" fill="#000" fill-opacity="1" filter="url(#s16)"/>
<rect x="119.5" y="1017.3" width="11.6" height="5.1" rx="2.3" fill="#000" fill-opacity="0.9" filter="url(#s16)"/>
<rect x="141.7" y="1014.9" width="16.6" height="9.6" rx="4.3" fill="#000" fill-opacity="1" filter="url(#s16)"/>
<rect x="144.7" y="1017.9" width="10.6" height="4.1" rx="1.8" fill="#000" fill-opacity="0.7" filter="url(#s16)"/>
<rect x="167.8" y="1013.3" width="15.1" height="10.6" rx="4.8" fill="#000" fill-opacity="0.84" filter="url(#s16)"/>
<rect x="193.2" y="1013.1" width="15.1" height="10.1" rx="4.5" fill="#000" fill-opacity="0.84" filter="url(#s16)"/>
<rect x="219.1" y="1009.7" width="15.1" height="11.1" rx="5.0" fill="#000" fill-opacity="0.9" filter="url(#s16)"/>
<rect x="242.9" y="1012.5" width="17.1" height="11.2" rx="5.0" fill="#000" fill-opacity="1" filter="url(#s16)"/>
<rect x="245.6" y="1015.8" width="11.6" height="5.1" rx="2.3" fill="#000" fill-opacity="0.8" filter="url(#s16)"/>
</g>
<rect x="112.6" y="1002.2" width="154.6" height="32.0" fill="none" stroke="#121212" stroke-width="2.5" rx="1.2"/>
<text x="272.7" y="1024.7" font-size="18.5" text-anchor="start" fill="#000" stroke="#000" stroke-width="0.85" >GAPDH</text>
<text x="80.7" y="906.4" font-size="18.5" text-anchor="end" fill="#000" stroke="#000" stroke-width="0.85" >75</text>
<path d="M94.4 901.7 H112.6" stroke="#050505" stroke-width="3.3"/>
<text x="80.7" y="936.0" font-size="18.5" text-anchor="end" fill="#000" stroke="#000" stroke-width="0.85" >50</text>
<path d="M94.4 930.7 H112.6" stroke="#050505" stroke-width="3.3"/>
<text x="80.7" y="959.8" font-size="18.5" text-anchor="end" fill="#000" stroke="#000" stroke-width="0.85" >37</text>
<path d="M94.4 955.1 H112.6" stroke="#050505" stroke-width="3.3"/>
<text x="80.7" y="974.1999999999999" font-size="18.5" text-anchor="end" fill="#000" stroke="#000" stroke-width="0.85" >50</text>
<path d="M94.4 967.9 H112.6" stroke="#050505" stroke-width="3.3"/>
<text x="80.7" y="999.9" font-size="18.5" text-anchor="end" fill="#000" stroke="#000" stroke-width="0.85" >37</text>
<path d="M94.4 994.8 H112.6" stroke="#050505" stroke-width="3.3"/>
<text x="80.7" y="1018.3" font-size="18.5" text-anchor="end" fill="#000" stroke="#000" stroke-width="0.85" >37</text>
<path d="M94.4 1011.7 H112.6" stroke="#050505" stroke-width="3.3"/>
<text x="371.5" y="860.3" font-size="44" text-anchor="start" fill="#000" stroke="#000" stroke-width="1.5" >H</text>
<text x="438.3" y="855.7" font-size="18.5" text-anchor="middle" fill="#000" stroke="#000" stroke-width="0.85" >MW</text>
<text x="438.3" y="878.2" font-size="19.0" text-anchor="middle" fill="#000" stroke="#000" stroke-width="0.85" >(kDa)</text>
<text x="503.3" y="856.4" font-size="18.5" text-anchor="middle" fill="#000" stroke="#000" stroke-width="0.85" textLength="52.5" lengthAdjust="spacingAndGlyphs" >DMSO</text>
<path d="M481.1 864.6 H524.9" stroke="#474747" stroke-width="2"/>
<text x="555.3" y="856.4" font-size="18.5" text-anchor="middle" fill="#000" stroke="#000" stroke-width="0.85" >Reg</text>
<path d="M534.9 864.6 H575.7" stroke="#474747" stroke-width="2"/>
<text x="607.2" y="856.4" font-size="18.5" text-anchor="middle" fill="#000" stroke="#000" stroke-width="0.85" >Sor</text>
<path d="M586.8 864.6 H627.6" stroke="#474747" stroke-width="2"/>
<text x="489.6" y="884.0" font-size="17.6" text-anchor="middle" fill="#000" stroke="#000" stroke-width="0.85" >M</text>
<text x="514.5" y="884.0" font-size="17.6" text-anchor="middle" fill="#000" stroke="#000" stroke-width="0.85" >H</text>
<text x="541.9" y="884.0" font-size="17.6" text-anchor="middle" fill="#000" stroke="#000" stroke-width="0.85" >M</text>
<text x="567.6" y="884.0" font-size="17.6" text-anchor="middle" fill="#000" stroke="#000" stroke-width="0.85" >H</text>
<text x="595.0999999999999" y="884.0" font-size="17.6" text-anchor="middle" fill="#000" stroke="#000" stroke-width="0.85" >M</text>
<text x="619.5" y="884.0" font-size="17.6" text-anchor="middle" fill="#000" stroke="#000" stroke-width="0.85" >H</text>
<text x="672" y="859.7" font-size="18.5" text-anchor="middle" fill="#000" stroke="#000" stroke-width="0.85" >HFF</text>
<text x="672" y="881.2" font-size="18.5" text-anchor="middle" fill="#000" stroke="#000" stroke-width="0.85" >24 hpi</text>
<clipPath id="cH0"><rect x="475.6" y="889.8" width="160.4" height="32.5"/></clipPath>
<rect x="475.6" y="889.8" width="160.4" height="32.5" fill="#dedede"/>
<g clip-path="url(#cH0)">
<rect x="475.6" y="889.8" width="160.4" height="32.5" fill="none" stroke="#000" stroke-opacity="0.2" stroke-width="7" filter="url(#s26)"/>
<rect x="481.0" y="898.8" width="17.6" height="12.1" rx="5.4" fill="#000" fill-opacity="1" filter="url(#s16)"/>
<rect x="483.5" y="901.5" width="12.6" height="6.6" rx="3.0" fill="#000" fill-opacity="1" filter="url(#s16)"/>
<rect x="479.7" y="898.4" width="20.1" height="17.1" rx="7.7" fill="#000" fill-opacity="0.25" filter="url(#s32)"/>
<rect x="506.7" y="894.9" width="16.6" height="15.1" rx="6.8" fill="#000" fill-opacity="0.85" filter="url(#s16)"/>
<rect x="506.9" y="896.4" width="16.1" height="17.1" rx="7.3" fill="#000" fill-opacity="0.15" filter="url(#s32)"/>
<rect x="532.5" y="899.5" width="18.2" height="16.1" rx="7.2" fill="#000" fill-opacity="1" filter="url(#s16)"/>
<rect x="534.8" y="902.2" width="13.6" height="10.6" rx="4.8" fill="#000" fill-opacity="1" filter="url(#s16)"/>
<rect x="531.0" y="897.4" width="21.1" height="21.1" rx="9.5" fill="#000" fill-opacity="0.25" filter="url(#s32)"/>
<rect x="562.0" y="900.2" width="14.2" height="9.2" rx="4.1" fill="#000" fill-opacity="0.72" filter="url(#s20)"/>
<rect x="561.4" y="898.4" width="15.1" height="15.1" rx="6.8" fill="#000" fill-opacity="0.15" filter="url(#s32)"/>
<rect x="587.3" y="897.7" width="17.6" height="16.6" rx="7.5" fill="#000" fill-opacity="1" filter="url(#s16)"/>
<rect x="589.8" y="900.7" width="12.6" height="10.6" rx="4.8" fill="#000" fill-opacity="1" filter="url(#s16)"/>
<rect x="585.4" y="896.4" width="21.1" height="23.1" rx="9.5" fill="#000" fill-opacity="0.25" filter="url(#s32)"/>
<rect x="615.4" y="899.7" width="14.7" height="10.2" rx="4.6" fill="#000" fill-opacity="0.62" filter="url(#s20)"/>
<rect x="615.1" y="897.4" width="15.1" height="17.1" rx="6.8" fill="#000" fill-opacity="0.15" filter="url(#s32)"/>
<ellipse cx="515" cy="901.3" rx="3.7" ry="3.5" fill="#d6d6d6" filter="url(#s13)"/>
</g>
<rect x="475.6" y="889.8" width="160.4" height="32.5" fill="none" stroke="#121212" stroke-width="2.5" rx="1.2"/>
<text x="641.5" y="914.6" font-size="18.5" text-anchor="start" fill="#000" stroke="#000" stroke-width="0.85" textLength="37.3" lengthAdjust="spacingAndGlyphs" >Raf1</text>
<clipPath id="cH1"><rect x="475.6" y="927.5" width="160.4" height="33.0"/></clipPath>
<rect x="475.6" y="927.5" width="160.4" height="33.0" fill="#dedede"/>
<g clip-path="url(#cH1)">
<rect x="475.6" y="927.5" width="160.4" height="33.0" fill="none" stroke="#000" stroke-opacity="0.2" stroke-width="7" filter="url(#s26)"/>
<rect x="481.1" y="935.5" width="16.1" height="15.6" rx="7.0" fill="#000" fill-opacity="1" filter="url(#s16)"/>
<rect x="483.6" y="938.3" width="11.1" height="10.1" rx="4.5" fill="#000" fill-opacity="1" filter="url(#s16)"/>
<rect x="478.9" y="931.4" width="20.1" height="23.1" rx="9.1" fill="#000" fill-opacity="0.22" filter="url(#s32)"/>
<rect x="505.9" y="933.0" width="16.1" height="17.6" rx="7.2" fill="#000" fill-opacity="1" filter="url(#s16)"/>
<rect x="508.4" y="936.0" width="11.1" height="11.6" rx="5.0" fill="#000" fill-opacity="1" filter="url(#s16)"/>
<rect x="503.9" y="929.4" width="20.1" height="25.1" rx="9.1" fill="#000" fill-opacity="0.22" filter="url(#s32)"/>
<rect x="535.2" y="940.2" width="11.7" height="7.7" rx="3.4" fill="#000" fill-opacity="0.22" filter="url(#s26)"/>
<rect x="559.0" y="939.3" width="6.7" height="7.7" rx="3.0" fill="#000" fill-opacity="0.2" filter="url(#s26)"/>
<rect x="586.6" y="936.0" width="13.7" height="12.7" rx="5.7" fill="#000" fill-opacity="0.46" filter="url(#s26)"/>
<rect x="586.8" y="934.4" width="13.1" height="19.1" rx="5.9" fill="#000" fill-opacity="0.15" filter="url(#s32)"/>
<rect x="614.3" y="935.7" width="14.2" height="12.2" rx="5.5" fill="#000" fill-opacity="0.56" filter="url(#s26)"/>
<rect x="614.3" y="934.4" width="14.1" height="19.1" rx="6.4" fill="#000" fill-opacity="0.15" filter="url(#s32)"/>
</g>
<rect x="475.6" y="927.5" width="160.4" height="33.0" fill="none" stroke="#121212" stroke-width="2.5" rx="1.2"/>
<text x="641.5" y="952.4" font-size="18.5" text-anchor="start" fill="#000" stroke="#000" stroke-width="0.85" >P-MEK</text>
<clipPath id="cH2"><rect x="475.6" y="965.2" width="160.4" height="32.6"/></clipPath>
<rect x="475.6" y="965.2" width="160.4" height="32.6" fill="#dedede"/>
<g clip-path="url(#cH2)">
<rect x="475.6" y="965.2" width="160.4" height="32.6" fill="none" stroke="#000" stroke-opacity="0.2" stroke-width="7" filter="url(#s26)"/>
<rect x="481.0" y="980.1" width="17.6" height="7.1" rx="3.2" fill="#000" fill-opacity="1" filter="url(#s16)"/>
<rect x="483.4" y="982.2" width="12.8" height="2.8" rx="1.3" fill="#000" fill-opacity="0.8" filter="url(#s13)"/>
<rect x="482.2" y="973.1" width="15.2" height="8.2" rx="3.7" fill="#000" fill-opacity="0.5" filter="url(#s20)"/>
<rect x="506.7" y="979.3" width="16.6" height="10.1" rx="4.5" fill="#000" fill-opacity="1" filter="url(#s16)"/>
<rect x="508.7" y="982.0" width="12.6" height="4.6" rx="2.1" fill="#000" fill-opacity="1" filter="url(#s16)"/>
<rect x="508.1" y="971.4" width="13.7" height="9.2" rx="4.1" fill="#000" fill-opacity="0.75" filter="url(#s20)"/>
<rect x="505.4" y="968.4" width="19.1" height="23.1" rx="8.6" fill="#000" fill-opacity="0.2" filter="url(#s32)"/>
<rect x="535.9" y="980.6" width="12.2" height="6.2" rx="2.8" fill="#000" fill-opacity="0.27" filter="url(#s20)"/>
<rect x="563.4" y="980.1" width="9.2" height="6.2" rx="2.8" fill="#000" fill-opacity="0.22" filter="url(#s20)"/>
<rect x="587.6" y="978.9" width="10.2" height="7.2" rx="3.2" fill="#000" fill-opacity="0.55" filter="url(#s20)"/>
<rect x="587.4" y="970.4" width="10.1" height="21.1" rx="4.6" fill="#000" fill-opacity="0.16" filter="url(#s32)"/>
<rect x="612.6" y="978.5" width="16.6" height="7.1" rx="3.2" fill="#000" fill-opacity="0.9" filter="url(#s16)"/>
<rect x="613.8" y="972.4" width="14.2" height="5.2" rx="2.3" fill="#000" fill-opacity="0.38" filter="url(#s20)"/>
<rect x="612.4" y="969.4" width="17.1" height="21.1" rx="7.7" fill="#000" fill-opacity="0.12" filter="url(#s32)"/>
</g>
<rect x="475.6" y="965.2" width="160.4" height="32.6" fill="none" stroke="#121212" stroke-width="2.5" rx="1.2"/>
<text x="641.5" y="990.2" font-size="18.5" text-anchor="start" fill="#000" stroke="#000" stroke-width="0.85" >P-ERK</text>
<clipPath id="cH3"><rect x="475.6" y="1002.4" width="160.4" height="32.0"/></clipPath>
<rect x="475.6" y="1002.4" width="160.4" height="32.0" fill="#dedede"/>
<g clip-path="url(#cH3)">
<rect x="475.6" y="1002.4" width="160.4" height="32.0" fill="none" stroke="#000" stroke-opacity="0.2" stroke-width="7" filter="url(#s26)"/>
<rect x="482.0" y="1012.6" width="16.6" height="11.0" rx="4.9" fill="#000" fill-opacity="1" filter="url(#s16)"/>
<rect x="484.5" y="1015.7" width="11.6" height="5.1" rx="2.3" fill="#000" fill-opacity="1" filter="url(#s16)"/>
<rect x="508.5" y="1008.5" width="16.6" height="12.1" rx="5.4" fill="#000" fill-opacity="1" filter="url(#s16)"/>
<rect x="511.0" y="1011.8" width="11.6" height="5.6" rx="2.5" fill="#000" fill-opacity="0.9" filter="url(#s16)"/>
<rect x="534.7" y="1015.6" width="15.6" height="6.8" rx="3.0" fill="#000" fill-opacity="0.95" filter="url(#s16)"/>
<rect x="537.6" y="1018.3" width="9.8" height="1.8" rx="0.8" fill="#000" fill-opacity="0.5" filter="url(#s13)"/>
<rect x="560.7" y="1009.3" width="14.6" height="10.4" rx="4.7" fill="#000" fill-opacity="0.95" filter="url(#s16)"/>
<rect x="585.4" y="1007.3" width="17.1" height="12.6" rx="5.7" fill="#000" fill-opacity="1" filter="url(#s16)"/>
<rect x="587.6" y="1010.4" width="12.6" height="6.6" rx="3.0" fill="#000" fill-opacity="1" filter="url(#s16)"/>
<rect x="610.6" y="1009.6" width="17.1" height="12.6" rx="5.7" fill="#000" fill-opacity="1" filter="url(#s16)"/>
<rect x="612.8" y="1012.7" width="12.6" height="6.6" rx="3.0" fill="#000" fill-opacity="1" filter="url(#s16)"/>
</g>
<rect x="475.6" y="1002.4" width="160.4" height="32.0" fill="none" stroke="#121212" stroke-width="2.5" rx="1.2"/>
<text x="641.5" y="1025.8" font-size="18.5" text-anchor="start" fill="#000" stroke="#000" stroke-width="0.85" >GAPDH</text>
<text x="450" y="902.5" font-size="18.5" text-anchor="end" fill="#000" stroke="#000" stroke-width="0.85" >75</text>
<path d="M454.3 897.4 H475.6" stroke="#050505" stroke-width="3.3"/>
<text x="450" y="937.6999999999999" font-size="18.5" text-anchor="end" fill="#000" stroke="#000" stroke-width="0.85" >50</text>
<path d="M454.3 931.9 H475.6" stroke="#050505" stroke-width="3.3"/>
<text x="450" y="957.9" font-size="18.5" text-anchor="end" fill="#000" stroke="#000" stroke-width="0.85" >37</text>
<path d="M454.3 953.3 H475.6" stroke="#050505" stroke-width="3.3"/>
<text x="450" y="974.1999999999999" font-size="18.5" text-anchor="end" fill="#000" stroke="#000" stroke-width="0.85" >50</text>
<path d="M454.3 968.4 H475.6" stroke="#050505" stroke-width="3.3"/>
<text x="450" y="998.0999999999999" font-size="18.5" text-anchor="end" fill="#000" stroke="#000" stroke-width="0.85" >37</text>
<path d="M454.3 992.3 H475.6" stroke="#050505" stroke-width="3.3"/>
<text x="450" y="1011.5" font-size="18.5" text-anchor="end" fill="#000" stroke="#000" stroke-width="0.85" >37</text>
<path d="M454.3 1005.4 H475.6" stroke="#050505" stroke-width="3.3"/>
</g>
</svg>
</body></html>
